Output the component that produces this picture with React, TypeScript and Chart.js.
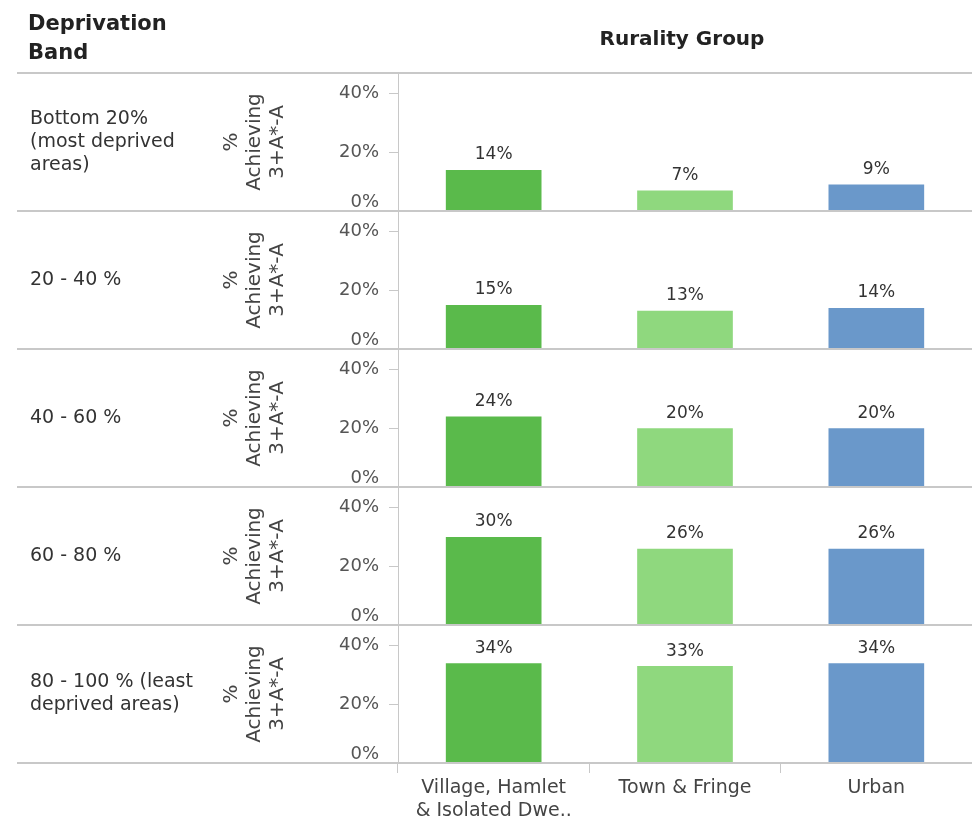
import { useEffect, useRef } from 'react';
import { Chart, registerables } from 'chart.js';

Chart.register(...registerables);

const FONT = '"DejaVu Sans", sans-serif';

// ---- data ----
const rurality = [['Village, Hamlet', '& Isolated Dwe..'], 'Town & Fringe', 'Urban'];
const bandLabels = [
  ['Bottom 20%', '(most deprived', 'areas)'],
  ['20 - 40 %'],
  ['40 - 60 %'],
  ['60 - 80 %'],
  ['80 - 100 % (least', 'deprived areas)'],
];
const bottom20 = [14, 7, 9];
const band20to40 = [15, 13, 14];
const band40to60 = [24, 20, 20];
const band60to80 = [30, 26, 26];
const band80to100 = [34, 33, 34];
const bandValues = [bottom20, band20to40, band40to60, band60to80, band80to100];
const yTicks = [0, 20, 40];
const yMax = 47;
const axisTitle = ['%', 'Achieving', '3+A*-A'];
const rowHeader = ['Deprivation', 'Band'];
const colHeader = 'Rurality Group';
const barColors = ['#5aba4b', '#8fd87e', '#6a98ca'];

const LINE = '#c8c8c8';

const decor = {
  id: 'decor',
  afterDraw(chart: any) {
    const { ctx, chartArea } = chart;
    const yScales = bandLabels.map((_, i) => chart.scales['y' + i]);
    ctx.save();
    // row separators
    ctx.strokeStyle = LINE;
    ctx.lineWidth = 2;
    const ys = [yScales[0].top, ...yScales.map((s: any) => s.bottom)];
    ys.forEach((y: number) => {
      ctx.beginPath();
      ctx.moveTo(17, y);
      ctx.lineTo(chart.width, y);
      ctx.stroke();
    });
    // row labels
    ctx.fillStyle = '#333';
    ctx.font = `19px ${FONT}`;
    ctx.textAlign = 'left';
    ctx.textBaseline = 'middle';
    yScales.forEach((s: any, i: number) => {
      const lines = bandLabels[i];
      const mid = (s.top + s.bottom) / 2;
      const lh = 23;
      lines.forEach((t, k) => ctx.fillText(t, 30, mid + (k - (lines.length - 1) / 2) * lh));
    });
    // headers
    ctx.fillStyle = '#222';
    ctx.font = `bold 21px ${FONT}`;
    ctx.textBaseline = 'alphabetic';
    ctx.fillText(rowHeader[0], 28, 30);
    ctx.fillText(rowHeader[1], 28, 59);
    ctx.font = `bold 20px ${FONT}`;
    ctx.textAlign = 'center';
    ctx.fillText(colHeader, (chartArea.left + chartArea.right) / 2 - 3, 45);
    // value labels
    ctx.font = `17px ${FONT}`;
    ctx.fillStyle = '#333';
    ctx.textBaseline = 'middle';
    chart.data.datasets.forEach((ds: any, i: number) => {
      const meta = chart.getDatasetMeta(i);
      meta.data.forEach((bar: any, j: number) => {
        ctx.fillText(ds.data[j] + '%', bar.x, bar.y - 15);
      });
    });
    ctx.restore();
  },
};

export default function App() {
  const ref = useRef<HTMLCanvasElement>(null);
  useEffect(() => {
    const yScalesCfg: any = {};
    bandValues.forEach((_, i) => {
      yScalesCfg['y' + i] = {
        type: 'linear',
        position: 'left',
        stack: 'rows',
        stackWeight: 1,
        weight: bandValues.length - i,
        min: 0,
        max: yMax,
        afterBuildTicks: (s: any) => {
          s.ticks = yTicks.map((v) => ({ value: v }));
        },
        afterFit: (s: any) => {
          s.width = 190;
        },
        ticks: {
          autoSkip: false,
          font: { family: FONT, size: 18, lineHeight: 1.0 },
          color: '#555',
          padding: 10,
          callback: (v: any) => (v === 0 ? [v + '%', ''] : v + '%'),
        },
        grid: {
          display: true,
          drawOnChartArea: false,
          drawTicks: true,
          tickLength: 9,
          color: LINE,
        },
        border: { display: true, color: LINE, width: 1 },
        title: {
          display: true,
          text: axisTitle,
          font: { family: FONT, size: 20, lineHeight: 1.15 },
          color: '#444',
          padding: { top: 12.5, bottom: 0 },
        },
      };
    });

    const chart = new Chart(ref.current as HTMLCanvasElement, {
      type: 'bar',
      data: {
        labels: rurality as any,
        datasets: bandValues.map((vals, i) => ({
          label: bandLabels[i].join(' '),
          data: vals,
          yAxisID: 'y' + i,
          backgroundColor: barColors,
          barPercentage: 0.5,
          categoryPercentage: 1,
          grouped: false,
        })),
      },
      options: {
        responsive: false,
        animation: false,
        events: [],
        layout: { padding: { top: 73, left: 208, right: 0, bottom: 0 } },
        plugins: {
          legend: { display: false },
          tooltip: { enabled: false },
          title: { display: false },
        },
        scales: {
          x: {
            type: 'category',
            position: 'bottom',
            offset: true,
            afterFit: (s: any) => {
              s.height = 60;
            },
            grid: {
              display: true,
              offset: true,
              drawOnChartArea: false,
              drawTicks: true,
              tickLength: 10,
              color: LINE,
            },
            border: { display: false },
            ticks: {
              font: { family: FONT, size: 19, lineHeight: 1.2 },
              color: '#444',
              padding: 4,
              maxRotation: 0,
              autoSkip: false,
            },
          },
          ...yScalesCfg,
        },
      },
      plugins: [decor],
    });
    return () => chart.destroy();
  }, []);

  return (
    <div style={{ position: 'absolute', left: 0, top: 0, width: 972, height: 823, background: '#fff' }}>
      <canvas ref={ref} width={972} height={823} style={{ display: 'block' }} />
    </div>
  );
}
